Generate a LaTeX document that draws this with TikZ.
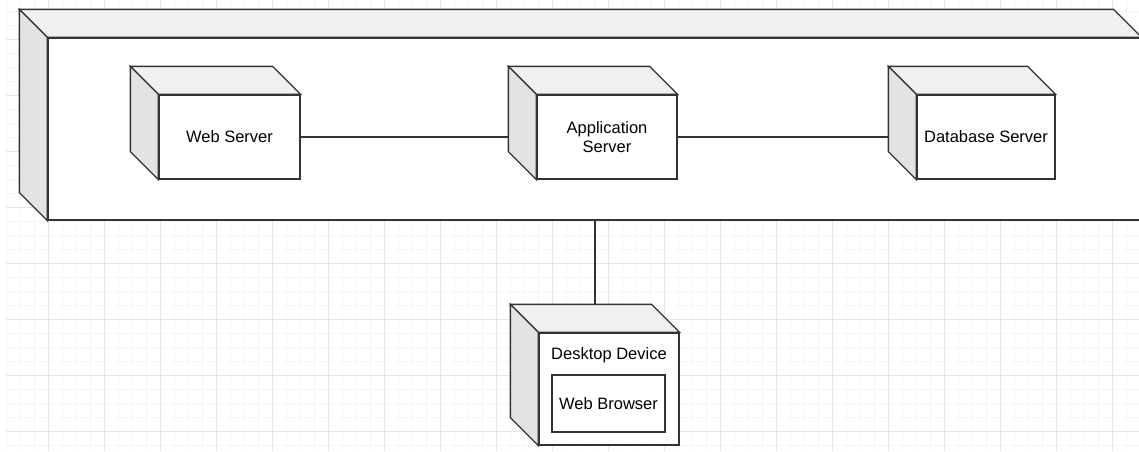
\documentclass[tikz,border=0pt]{standalone}
\usepackage{fontspec}
\setmainfont{Liberation Sans}
\usetikzlibrary{calc}

\definecolor{edgegray}{HTML}{333333}
\definecolor{topgray}{HTML}{F0F0F0}
\definecolor{sidegray}{HTML}{E3E3E3}
\definecolor{gridmajor}{HTML}{E6E6E6}
\definecolor{gridminor}{HTML}{F5F5F5}

\tikzset{
  front/.style={rectangle, draw=edgegray, fill=white, line width=1.3pt, inner sep=0pt, align=center,
    font=\fontsize{16.5}{19.5}\selectfont},
  topface/.style={draw=edgegray, fill=topgray, line width=1.3pt},
  sideface/.style={draw=edgegray, fill=sidegray, line width=1.3pt},
  link/.style={draw=edgegray, line width=1.3pt},
  minorgrid/.style={draw=gridminor, line width=0.8pt},
  majorgrid/.style={draw=gridmajor, line width=1pt}
}

% top and left faces of a node box, 28 deep
\newcommand{\cubefaces}[1]{%
  \draw[topface] (#1.north west) -- ++(-28,-28) -- ($(#1.north east)+(-28,-28)$) -- (#1.north east) -- cycle;
  \draw[sideface] (#1.north west) -- ++(-28,-28) -- ($(#1.south west)+(-28,-28)$) -- (#1.south west) -- cycle;
}

\begin{document}
\begin{tikzpicture}[x=1pt, y=-1pt]
    \useasboundingbox (0,0) rectangle (1139,451);
    \fill[white] (0,0) rectangle (1139,451);
    % grid
    \foreach \gx in {6.5,20.5,...,1139} \draw[minorgrid] (\gx,0) -- (\gx,451);
    \foreach \gy in {11,25,...,451} \draw[minorgrid] (6,\gy) -- (1139,\gy);
    \foreach \gx in {48.5,104.5,...,1139} \draw[majorgrid] (\gx,0) -- (\gx,451);
    \foreach \gy in {39,95,...,451} \draw[majorgrid] (6,\gy) -- (1139,\gy);

    \node[front, minimum width=1093pt, minimum height=182pt] (infra) at (594.5,129) {};
    \cubefaces{infra}

    \node[front, minimum width=141pt, minimum height=84pt] (web) at (229.5,137) {Web Server};
    \node[front, minimum width=140pt, minimum height=84pt] (app) at (607,137) {Application\\Server};
    \node[front, minimum width=138pt, minimum height=84pt] (db) at (986,137) {Database Server};
    \foreach \n in {web, app, db} {\cubefaces{\n}}

    \node[front, minimum width=140pt, minimum height=112pt] (desk) at (609,389) {};
    \cubefaces{desk}
    \node[font=\fontsize{16.5}{19.5}\selectfont, inner sep=0pt] (desklabel) at (609,355) {Desktop Device};
    \node[front, minimum width=113pt, minimum height=57pt] (browser) at (608.5,403.5) {Web Browser};

    \coordinate (appback) at ($(app.west)+(-28,0)$);
    \coordinate (dbback) at ($(db.west)+(-28,0)$);
    \coordinate (deskback) at ($(desk.north)+(-14,-28)$);
    \foreach \i/\j in {web/appback, app/dbback}
      \draw[link] (\i.east) -- (\j);
    \draw[link] (infra.south -| deskback) -- (deskback);
\end{tikzpicture}
\end{document}
